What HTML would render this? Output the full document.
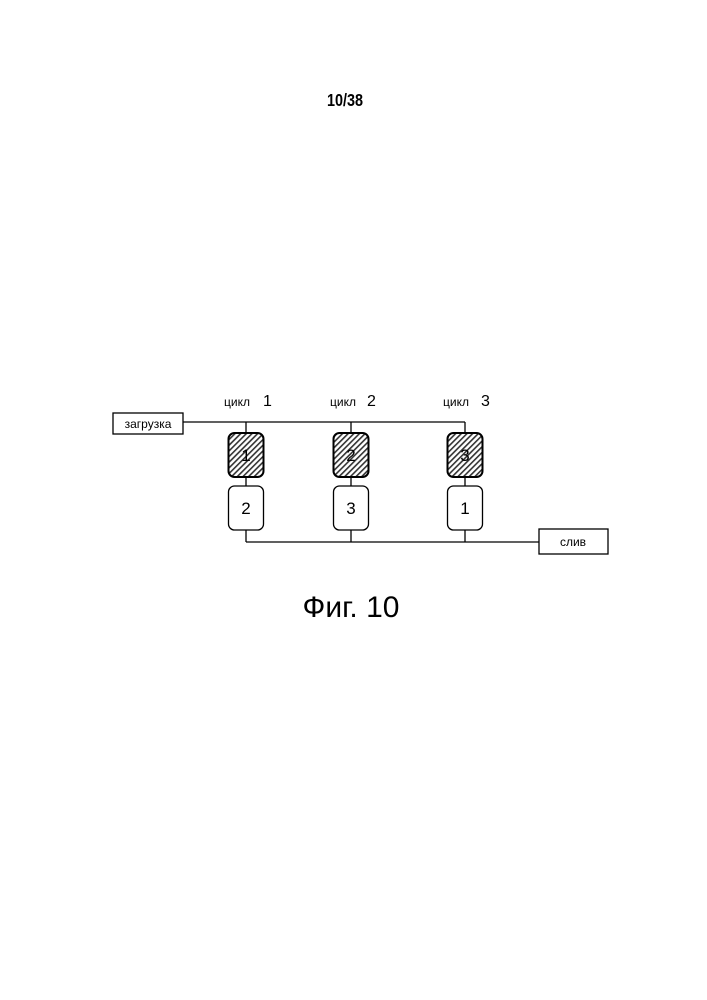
<!DOCTYPE html>
<html><head><meta charset="utf-8"><style>
body{margin:0;background:#fff;}
</style></head><body>
<svg width="707" height="1000" xmlns="http://www.w3.org/2000/svg" style="display:block">
<defs>
<pattern id="h" patternUnits="userSpaceOnUse" width="4" height="4" patternTransform="rotate(45)">
<rect width="4" height="4" fill="#fff"/><rect width="1.6" height="4" fill="#333"/>
</pattern>
</defs>
<text x="345" y="106" font-family="Liberation Sans Narrow, Liberation Sans, sans-serif" font-size="18" font-weight="bold" text-anchor="middle" transform="translate(345 0) scale(0.8 1) translate(-345 0)">10/38</text>
<g stroke="#000" stroke-width="1.3" fill="none">
<line x1="183" y1="422" x2="465" y2="422"/>
<line x1="246" y1="542" x2="539" y2="542"/>
<line x1="246" y1="422" x2="246" y2="542"/>
<line x1="351" y1="422" x2="351" y2="542"/>
<line x1="465" y1="422" x2="465" y2="542"/>
<rect x="113" y="413" width="70" height="21" fill="#fff"/>
<rect x="539" y="529" width="69" height="25" fill="#fff"/>
<rect x="228.5" y="433" width="35" height="44" rx="6" fill="url(#h)" stroke-width="2"/>
<rect x="333.5" y="433" width="35" height="44" rx="6" fill="url(#h)" stroke-width="2"/>
<rect x="447.5" y="433" width="35" height="44" rx="6" fill="url(#h)" stroke-width="2"/>
<rect x="228.5" y="486" width="35" height="44" rx="6" fill="#fff"/>
<rect x="333.5" y="486" width="35" height="44" rx="6" fill="#fff"/>
<rect x="447.5" y="486" width="35" height="44" rx="6" fill="#fff"/>
</g>
<g font-family="Liberation Sans, sans-serif" fill="#000">
<text x="148" y="428" font-size="12" text-anchor="middle">загрузка</text>
<text x="573" y="546" font-size="12" text-anchor="middle">слив</text>
<text x="224" y="406" font-size="12">цикл</text><text x="263" y="406" font-size="16">1</text>
<text x="330" y="406" font-size="12">цикл</text><text x="367" y="406" font-size="16">2</text>
<text x="443" y="406" font-size="12">цикл</text><text x="481" y="406" font-size="16">3</text>
<g font-size="17" text-anchor="middle">
<text x="246" y="461">1</text><text x="351" y="461">2</text><text x="465" y="461">3</text>
<text x="246" y="514">2</text><text x="351" y="514">3</text><text x="465" y="514">1</text>
</g>
<text x="351" y="617" font-size="30" text-anchor="middle">Фиг. 10</text>
</g>
</svg>
</body></html>
